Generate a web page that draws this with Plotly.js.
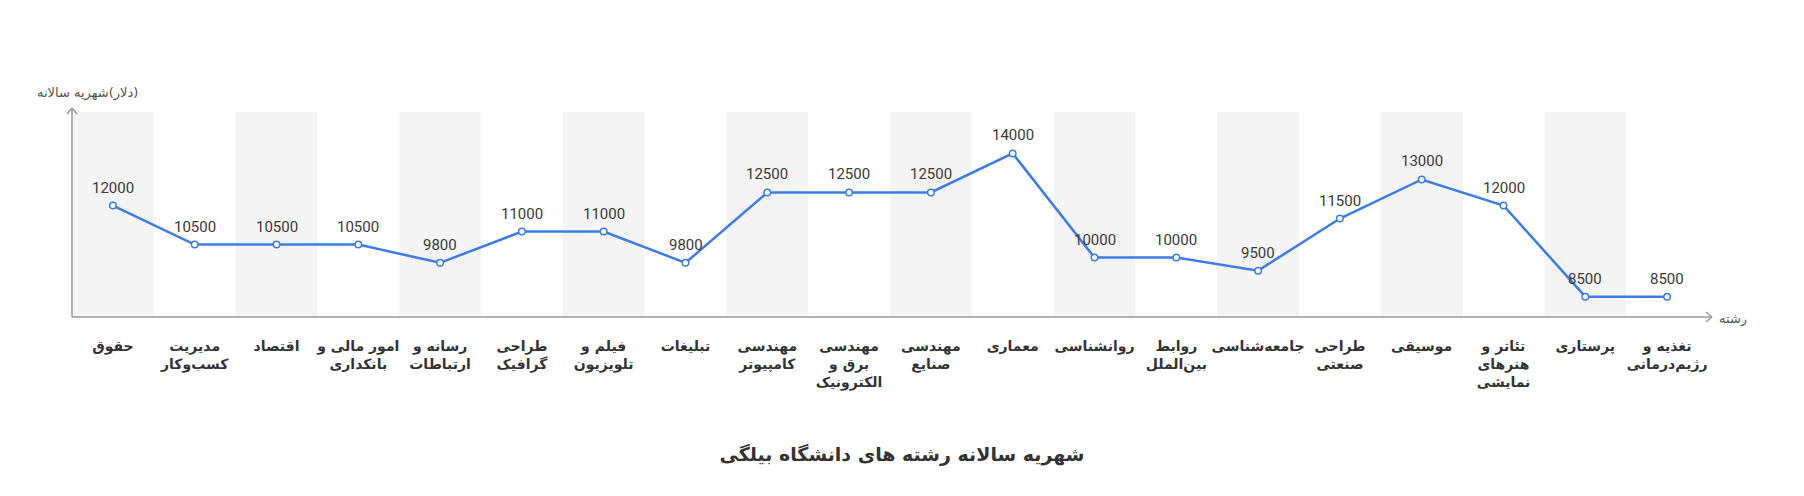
<!DOCTYPE html>
<html>
<head>
<meta charset="utf-8">
<script src="https://cdn.plot.ly/plotly-3.0.1.min.js"></script>
<style>
  body { margin: 0; background: #fff; }
  #chart { width: 1804px; height: 496px; }
</style>
</head>
<body>
<div id="chart"></div>
<script>
var reshteha = [
  "حقوق", "مدیریت<br>کسب‌وکار", "اقتصاد", "امور مالی و<br>بانکداری", "رسانه و<br>ارتباطات",
  "طراحی<br>گرافیک", "فیلم و<br>تلویزیون", "تبلیغات", "مهندسی<br>کامپیوتر", "مهندسی<br>برق و<br>الکترونیک",
  "مهندسی<br>صنایع", "معماری", "روانشناسی", "روابط<br>بین‌الملل", "جامعه‌شناسی",
  "طراحی<br>صنعتی", "موسیقی", "تئاتر و<br>هنرهای<br>نمایشی", "پرستاری", "تغذیه و<br>رژیم‌درمانی"
];
var shahriye = [12000, 10500, 10500, 10500, 9800, 11000, 11000, 9800, 12500, 12500,
  12500, 14000, 10000, 10000, 9500, 11500, 13000, 12000, 8500, 8500];

var idx = reshteha.map(function (r, i) { return i; });
var farsiFont = "DejaVu Sans, Tahoma, sans-serif";
var axisColor = "#9a9a9a";
var plotW = 1636;

var trace = {
  x: idx,
  y: shahriye,
  type: 'scatter',
  mode: 'lines+markers',
  line: { color: '#3d7ce6', width: 2.5 },
  marker: { size: 6.5, color: '#ffffff', line: { color: '#3d7ce6', width: 1.5 } },
  hoverinfo: 'skip'
};

// navar-haye khakestari (zebra)
var shapes = [];
for (var i = 0; i < idx.length; i += 2) {
  shapes.push({
    type: 'rect', layer: 'below', xref: 'x', yref: 'paper',
    x0: i - 0.5, x1: i + 0.5, y0: 0, y1: 1,
    fillcolor: '#f4f4f4', line: { width: 0 }
  });
}
// mehvar-ha ba felesh
var ln = { color: axisColor, width: 1.5 };
shapes.push({ type: 'line', xref: 'paper', yref: 'paper', ysizemode: 'pixel', yanchor: 0,
  x0: 0, x1: 0, y0: 0, y1: 209, line: ln });
shapes.push({ type: 'line', xref: 'paper', yref: 'paper', xsizemode: 'pixel', ysizemode: 'pixel',
  xanchor: 0, yanchor: 0, x0: 0, x1: -5, y0: 209, y1: 203, line: ln });
shapes.push({ type: 'line', xref: 'paper', yref: 'paper', xsizemode: 'pixel', ysizemode: 'pixel',
  xanchor: 0, yanchor: 0, x0: 0, x1: 5, y0: 209, y1: 203, line: ln });
shapes.push({ type: 'line', xref: 'paper', yref: 'paper', xsizemode: 'pixel', xanchor: 0,
  x0: 0, x1: plotW + 4, y0: 0, y1: 0, line: ln });
shapes.push({ type: 'line', xref: 'paper', yref: 'paper', xsizemode: 'pixel', ysizemode: 'pixel',
  xanchor: 0, yanchor: 0, x0: plotW + 4, x1: plotW - 2, y0: 0, y1: 5, line: ln });
shapes.push({ type: 'line', xref: 'paper', yref: 'paper', xsizemode: 'pixel', ysizemode: 'pixel',
  xanchor: 0, yanchor: 0, x0: plotW + 4, x1: plotW - 2, y0: 0, y1: -5, line: ln });

var annotations = shahriye.map(function (v, i) {
  return {
    x: i, y: v, xref: 'x', yref: 'y', text: String(v), showarrow: false,
    yshift: 18, font: { family: 'Roboto, sans-serif', size: 15, color: '#3a3a3a' }
  };
});
annotations.push({
  xref: 'paper', yref: 'paper', x: 0, y: 1, xanchor: 'right', yanchor: 'middle',
  xshift: 68, yshift: 19,
  text: '\u202B(دلار)شهریه سالانه\u202C', showarrow: false,
  font: { family: farsiFont, size: 13, color: '#555' }
});
annotations.push({
  xref: 'paper', yref: 'paper', x: 1, y: 0, xanchor: 'center', yanchor: 'middle',
  xshift: 25, yshift: -2,
  text: 'رشته', showarrow: false,
  font: { family: farsiFont, size: 13, color: '#555' }
});

var layout = {
  width: 1804,
  height: 496,
  paper_bgcolor: '#ffffff',
  plot_bgcolor: '#ffffff',
  margin: { l: 72, r: 96, t: 112, b: 179 },
  showlegend: false,
  title: {
    text: '<b>شهریه سالانه رشته های دانشگاه بیلگی</b>',
    font: { family: farsiFont, size: 19, color: '#333' },
    x: 0.5, xanchor: 'center', y: 0.083, yanchor: 'middle', yref: 'container'
  },
  xaxis: {
    range: [-0.5, 19.5],
    tickmode: 'array',
    tickvals: idx,
    ticktext: reshteha.map(function (r) { return '<b>' + r + '</b>'; }),
    ticks: 'outside', ticklen: 16, tickcolor: 'rgba(0,0,0,0)',
    tickfont: { family: farsiFont, size: 14, color: '#333' },
    showgrid: false, zeroline: false, showline: false, fixedrange: true
  },
  yaxis: {
    range: [7720, 15590],
    showticklabels: false, showgrid: false, zeroline: false, showline: false, ticks: '',
    fixedrange: true
  },
  shapes: shapes,
  annotations: annotations
};

Plotly.newPlot('chart', [trace], layout, { displayModeBar: false, staticPlot: true });
</script>
</body>
</html>
